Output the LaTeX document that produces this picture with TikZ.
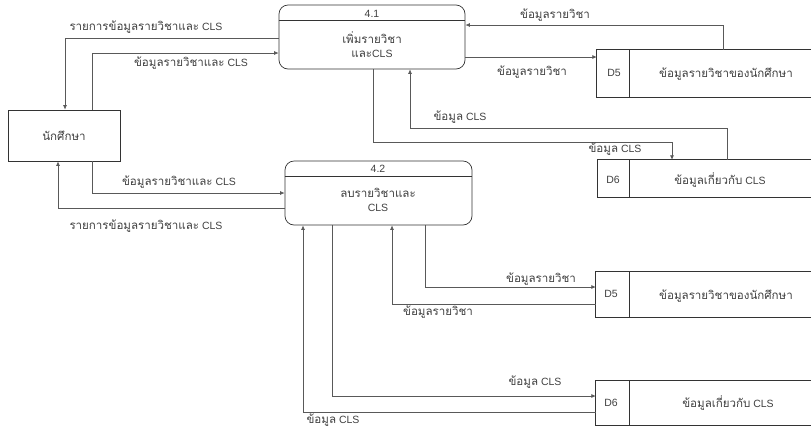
\documentclass[tikz,border=0pt]{standalone}
\usepackage{fontspec}
\setmainfont{Liberation Sans}
\newfontfamily\thaifont[Script=Thai,Scale=1.1]{Loma}
\usetikzlibrary{arrows.meta,calc}
\newcommand\tx[1]{{\thaifont #1}}
\newcommand\fs{\fontsize{10.5}{14}\selectfont}
\begin{document}
\begin{tikzpicture}[x=1pt,y=-1pt,
  box/.style={draw=black!80, line width=0.7pt, inner sep=0pt},
  proc/.style={box, rounded corners=9pt, minimum width=186pt, minimum height=64pt},
  arr/.style={draw=black!65, line width=0.7pt, -{Latex[length=4.5pt,width=4pt]}},
  lbl/.style={font=\fs, text=black!75, inner sep=0pt, align=center},
  store/.style={inner sep=0pt}]
\useasboundingbox (0,0) rectangle (811,432);

% external entity
\node[box, minimum width=112pt, minimum height=51pt, font=\fs, text=black!75] (stu) at (64,135.5) {\tx{นักศึกษา}};

% processes
\node[proc] (p41) at (372,37) {};
\draw[box] ([yshift=-16pt]p41.north west) -- ([yshift=-16pt]p41.north east);
\node[lbl] (p41n) at (372,13.5) {4.1};
\node[lbl] (p41t) at (372,45) {\tx{เพิ่มรายวิชา}\\\tx{และ}CLS};

\node[proc, minimum width=187pt] (p42) at (378.5,193) {};
\draw[box] ([yshift=-16pt]p42.north west) -- ([yshift=-16pt]p42.north east);
\node[lbl] (p42n) at (378,169) {4.2};
\node[lbl] (p42t) at (378,200) {\tx{ลบรายวิชาและ}\\CLS};

% data stores
\node[store, minimum width=214pt, minimum height=47pt] (d5a) at (704,73.5) {};
\draw[box] (d5a.north east) -- (d5a.north west) -- (d5a.south west) -- (d5a.south east);
\draw[box] ([xshift=33pt]d5a.north west) -- ([xshift=33pt]d5a.south west);
\node[lbl] (d5an) at (614,73) {D5};
\node[lbl] (d5at) at (726,74) {\tx{ข้อมูลรายวิชาของนักศึกษา}};

\node[store, minimum width=213pt, minimum height=37pt] (d6a) at (704.5,178.5) {};
\draw[box] (d6a.north east) -- (d6a.north west) -- (d6a.south west) -- (d6a.south east);
\draw[box] ([xshift=32pt]d6a.north west) -- ([xshift=32pt]d6a.south west);
\node[lbl] (d6an) at (613,180) {D6};
\node[lbl] (d6at) at (720,180) {\tx{ข้อมูลเกี่ยวกับ} CLS};

\node[store, minimum width=215pt, minimum height=45pt] (d5b) at (703.5,294.5) {};
\draw[box] (d5b.north east) -- (d5b.north west) -- (d5b.south west) -- (d5b.south east);
\draw[box] ([xshift=34pt]d5b.north west) -- ([xshift=34pt]d5b.south west);
\node[lbl] (d5bn) at (611,294) {D5};
\node[lbl] (d5bt) at (726,296) {\tx{ข้อมูลรายวิชาของนักศึกษา}};

\node[store, minimum width=215pt, minimum height=44pt] (d6b) at (703.5,403) {};
\draw[box] (d6b.north east) -- (d6b.north west) -- (d6b.south west) -- (d6b.south east);
\draw[box] ([xshift=34pt]d6b.north west) -- ([xshift=34pt]d6b.south west);
\node[lbl] (d6bn) at (611,403) {D6};
\node[lbl] (d6bt) at (728,403) {\tx{ข้อมูลเกี่ยวกับ} CLS};

% turning levels
\coordinate (t7) at (0,128);
\coordinate (t8) at (0,142);

% connectors: student <-> 4.1
\draw[arr] ([yshift=-1pt]p41.west) -| ([xshift=1pt]stu.north);
\draw[arr] ([xshift=28pt]stu.north) |- ([yshift=-16pt]p41.west);
% student <-> 4.2
\draw[arr] ([xshift=28pt]stu.south) |- (p42.west);
\draw[arr] ([yshift=-15pt]p42.west) -| ([xshift=-6pt]stu.south);
% 4.1 <-> D5
\draw[arr] ([xshift=19pt]d5a.north) |- ([yshift=12pt]p41.east);
\coordinate (a6) at ([yshift=-20pt]p41.east);
\draw[arr] (a6) -- (a6 -| d5a.west);
% 4.1 <-> D6
\coordinate (s7) at ([xshift=22.5pt]d6a.north);
\draw[arr] (s7) -- (s7 |- t7) -| ([xshift=38pt]p41.south);
\coordinate (s8) at ([xshift=1pt]p41.south);
\draw[arr] (s8) -- (s8 |- t8) -| ([xshift=-32.5pt]d6a.north);
% 4.2 <-> D5
\draw[arr] ([xshift=46.5pt]p42.south) |- ([yshift=7.5pt]d5b.west);
\draw[arr] ([yshift=-9.5pt]d5b.west) -| ([xshift=13.5pt]p42.south);
% 4.2 <-> D6
\draw[arr] ([xshift=-46.5pt]p42.south) |- ([yshift=7pt]d6b.west);
\draw[arr] ([yshift=-9pt]d6b.west) -| ([xshift=-75.5pt]p42.south);

% labels
\node[lbl] (l1) at (146,27) {\tx{รายการข้อมูลรายวิชาและ} CLS};
\node[lbl] (l2) at (191,63) {\tx{ข้อมูลรายวิชาและ} CLS};
\node[lbl] (l3) at (179,182) {\tx{ข้อมูลรายวิชาและ} CLS};
\node[lbl] (l4) at (146,226) {\tx{รายการข้อมูลรายวิชาและ} CLS};
\node[lbl] (l5) at (555,15) {\tx{ข้อมูลรายวิชา}};
\node[lbl] (l6) at (532,72) {\tx{ข้อมูลรายวิชา}};
\node[lbl] (l7) at (460,117) {\tx{ข้อมูล} CLS};
\node[lbl] (l8) at (615,149) {\tx{ข้อมูล} CLS};
\node[lbl] (l9) at (541,279) {\tx{ข้อมูลรายวิชา}};
\node[lbl] (l10) at (438,312) {\tx{ข้อมูลรายวิชา}};
\node[lbl] (l11) at (535,382) {\tx{ข้อมูล} CLS};
\node[lbl] (l12) at (333,420) {\tx{ข้อมูล} CLS};
\end{tikzpicture}
\end{document}
